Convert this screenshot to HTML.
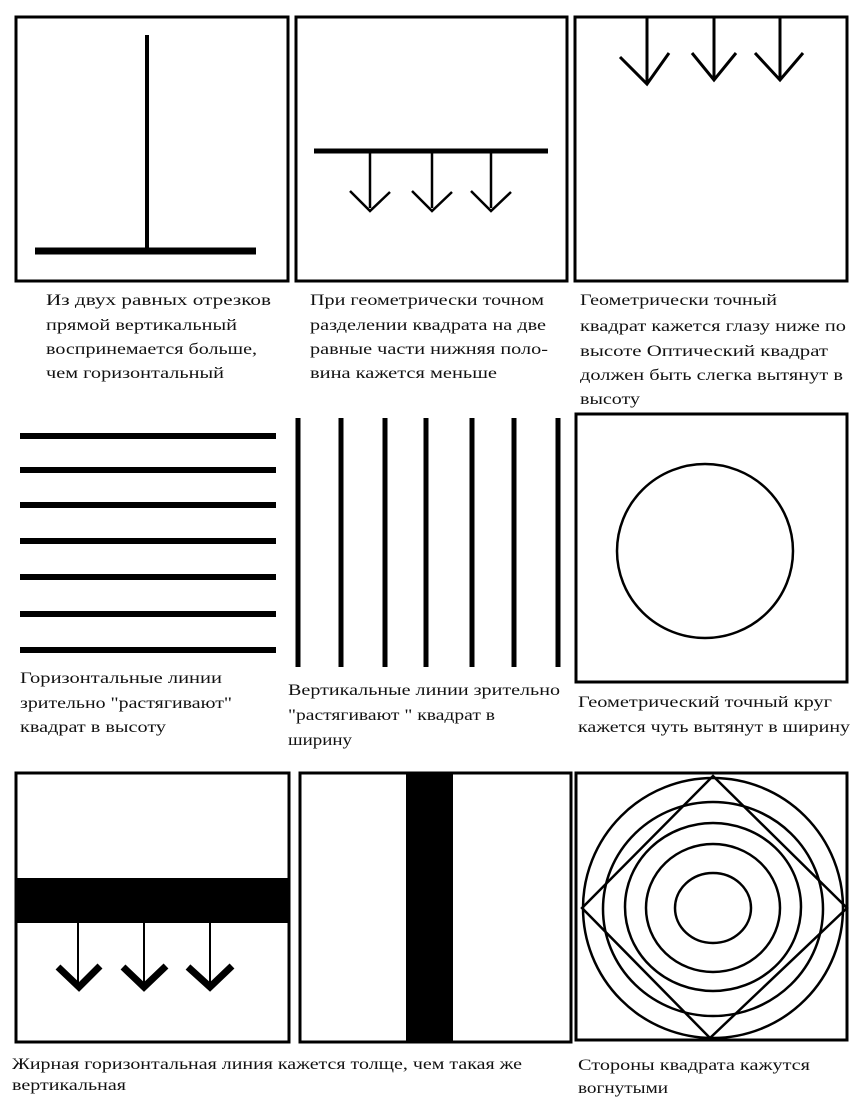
<!DOCTYPE html>
<html><head><meta charset="utf-8"><style>
html,body{margin:0;padding:0;background:#fff;}
svg{display:block;}
text{font-family:"Liberation Serif",serif;font-size:16px;fill:#111;}
</style></head><body>
<svg width="866" height="1104" viewBox="0 0 866 1104" xmlns="http://www.w3.org/2000/svg">
<g fill="none" stroke="#000">
<!-- Row 1 boxes -->
<rect x="16" y="17" width="272" height="264" stroke-width="3"/>
<rect x="296" y="17" width="271" height="264" stroke-width="3"/>
<rect x="575" y="17" width="272" height="264" stroke-width="3"/>
<!-- box1 -->
<line x1="147" y1="35" x2="147" y2="250" stroke-width="4"/>
<line x1="35" y1="251" x2="256" y2="251" stroke-width="7"/>
<!-- box2 -->
<line x1="314" y1="151" x2="548" y2="151" stroke-width="5"/>
<g stroke-width="2.5">
<line x1="370" y1="151" x2="370" y2="208"/><line x1="432" y1="151" x2="432" y2="208"/><line x1="491" y1="151" x2="491" y2="208"/>
<polyline points="350,191 370,211 390,192"/><polyline points="412,191 432,211 452,192"/><polyline points="471,191 491,211 511,192"/>
</g>
<!-- box3 -->
<g stroke-width="3">
<line x1="647" y1="17" x2="647" y2="82"/><line x1="714" y1="17" x2="714" y2="80"/><line x1="780" y1="17" x2="780" y2="80"/>
<polyline points="620,57 647,84 669,53"/><polyline points="692,53 714,80 736,53"/><polyline points="755,53 780,80 803,53"/>
</g>
<!-- Row 2 -->
<g stroke-width="6">
<line x1="20" y1="436" x2="276" y2="436"/><line x1="20" y1="470" x2="276" y2="470"/><line x1="20" y1="505" x2="276" y2="505"/>
<line x1="20" y1="541" x2="276" y2="541"/><line x1="20" y1="577" x2="276" y2="577"/><line x1="20" y1="614" x2="276" y2="614"/><line x1="20" y1="650" x2="276" y2="650"/>
</g>
<g stroke-width="5">
<line x1="298" y1="418" x2="298" y2="667"/><line x1="341" y1="418" x2="341" y2="667"/><line x1="385" y1="418" x2="385" y2="667"/>
<line x1="426" y1="418" x2="426" y2="667"/><line x1="472" y1="418" x2="472" y2="667"/><line x1="514" y1="418" x2="514" y2="667"/><line x1="558" y1="418" x2="558" y2="667"/>
</g>
<rect x="576" y="414" width="271" height="268" stroke-width="3"/>
<ellipse cx="705" cy="551" rx="88" ry="87" stroke-width="2.5"/>
<!-- Row 3 -->
<rect x="16" y="773" width="273" height="269" stroke-width="3"/>
<rect x="300" y="773" width="271" height="269" stroke-width="3"/>
<rect x="576" y="773" width="271" height="267" stroke-width="3"/>
</g>
<rect x="16" y="878" width="273" height="45" fill="#000"/>
<rect x="406" y="773" width="47" height="269" fill="#000"/>
<g fill="none" stroke="#000">
<g stroke-width="2">
<line x1="78" y1="923" x2="78" y2="985"/><line x1="144" y1="923" x2="144" y2="985"/><line x1="210" y1="923" x2="210" y2="985"/>
</g>
<g stroke-width="7">
<polyline points="58,967 79,987 100,966"/><polyline points="123,967 144,987 166,966"/><polyline points="188,967 210,987 232,966"/>
</g>
<g stroke-width="2.5">
<circle cx="713" cy="908" r="130"/>
<ellipse cx="713" cy="909" rx="110" ry="107"/>
<ellipse cx="713" cy="907" rx="88" ry="84"/>
<ellipse cx="713" cy="908" rx="67" ry="64"/>
<ellipse cx="713" cy="908" rx="38" ry="35"/>
<polygon points="713,776 847,908 710,1038 582,908"/>
</g>
</g>
<!-- captions -->
<g lengthAdjust="spacingAndGlyphs">
<text x="46" y="305" textLength="225" lengthAdjust="spacingAndGlyphs">Из двух равных отрезков</text>
<text x="46" y="330" textLength="191" lengthAdjust="spacingAndGlyphs">прямой вертикальный</text>
<text x="46" y="354" textLength="211" lengthAdjust="spacingAndGlyphs">воспринемается больше,</text>
<text x="46" y="378" textLength="178" lengthAdjust="spacingAndGlyphs">чем горизонтальный</text>

<text x="310" y="305" textLength="234" lengthAdjust="spacingAndGlyphs">При геометрически точном</text>
<text x="310" y="330" textLength="236" lengthAdjust="spacingAndGlyphs">разделении квадрата на две</text>
<text x="310" y="354" textLength="238" lengthAdjust="spacingAndGlyphs">равные части нижняя поло-</text>
<text x="310" y="378" textLength="187" lengthAdjust="spacingAndGlyphs">вина кажется  меньше</text>

<text x="580" y="305" textLength="197" lengthAdjust="spacingAndGlyphs">Геометрически точный</text>
<text x="580" y="331" textLength="266" lengthAdjust="spacingAndGlyphs">квадрат кажется глазу ниже по</text>
<text x="580" y="356" textLength="248" lengthAdjust="spacingAndGlyphs">высоте  Оптический квадрат</text>
<text x="580" y="380" textLength="263" lengthAdjust="spacingAndGlyphs">должен быть слегка вытянут в</text>
<text x="580" y="404" textLength="60" lengthAdjust="spacingAndGlyphs">высоту</text>

<text x="20" y="683" textLength="202" lengthAdjust="spacingAndGlyphs">Горизонтальные линии</text>
<text x="20" y="708" textLength="212" lengthAdjust="spacingAndGlyphs">зрительно "растягивают"</text>
<text x="20" y="732" textLength="146" lengthAdjust="spacingAndGlyphs">квадрат в высоту</text>

<text x="288" y="695" textLength="272" lengthAdjust="spacingAndGlyphs">Вертикальные линии зрительно</text>
<text x="288" y="720" textLength="207" lengthAdjust="spacingAndGlyphs">"растягивают " квадрат в</text>
<text x="288" y="745" textLength="64" lengthAdjust="spacingAndGlyphs">ширину</text>

<text x="578" y="707" textLength="254" lengthAdjust="spacingAndGlyphs">Геометрический точный круг</text>
<text x="578" y="732" textLength="272" lengthAdjust="spacingAndGlyphs">кажется чуть вытянут в ширину</text>

<text x="12" y="1069" textLength="510" lengthAdjust="spacingAndGlyphs">Жирная горизонтальная линия кажется толще, чем такая же</text>
<text x="12" y="1090" textLength="114" lengthAdjust="spacingAndGlyphs">вертикальная</text>
<text x="578" y="1070" textLength="232" lengthAdjust="spacingAndGlyphs">Стороны квадрата кажутся</text>
<text x="578" y="1093" textLength="90" lengthAdjust="spacingAndGlyphs">вогнутыми</text>
</g>
</svg>
</body></html>
